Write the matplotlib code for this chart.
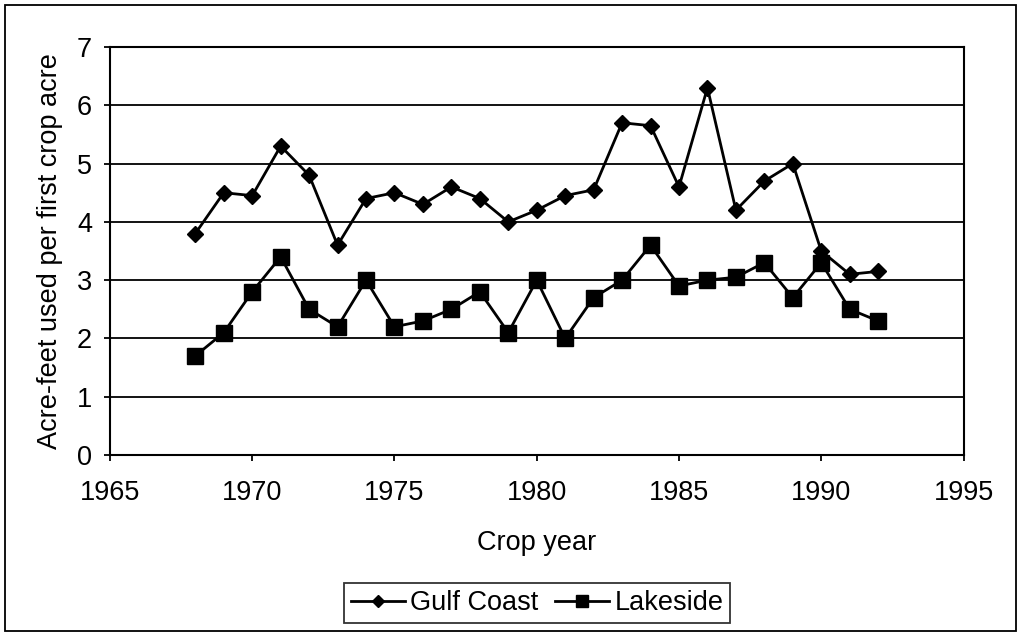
import matplotlib.pyplot as plt
from matplotlib.patches import Rectangle

plt.rcParams['font.family'] = ['Liberation Sans', 'DejaVu Sans']
plt.rcParams['font.size'] = 19.5

years = list(range(1968, 1993))
gulf_coast = [3.8, 4.5, 4.45, 5.3, 4.8, 3.6, 4.4, 4.5, 4.3, 4.6, 4.4, 4.0, 4.2,
              4.45, 4.55, 5.7, 5.65, 4.6, 6.3, 4.2, 4.7, 5.0, 3.5, 3.1, 3.15]
lakeside = [1.7, 2.1, 2.8, 3.4, 2.5, 2.2, 3.0, 2.2, 2.3, 2.5, 2.8, 2.1, 3.0,
            2.0, 2.7, 3.0, 3.6, 2.9, 3.0, 3.05, 3.3, 2.7, 3.3, 2.5, 2.3]

fig = plt.figure(figsize=(10.21, 6.36), dpi=100)
ax = fig.add_axes([0.1077, 0.2846, 0.836, 0.6415])

ax.plot(years, gulf_coast, color='black', linewidth=2, marker='D', markersize=8, label='Gulf Coast')
ax.plot(years, lakeside, color='black', linewidth=2, marker='s', markersize=11, label='Lakeside')

ax.set_xlim(1965, 1995)
ax.set_ylim(0, 7)
ax.set_xticks(range(1965, 1996, 5))
ax.set_yticks(range(0, 8))
ax.yaxis.grid(True, color='black', linewidth=1.3)
ax.set_axisbelow(True)
for s in ax.spines.values():
    s.set_linewidth(1.5)
ax.tick_params(direction='out', length=4, width=1.3)
ax.tick_params(axis='x', pad=14)
ax.tick_params(axis='y', pad=9)

ax.set_xlabel('Crop year', labelpad=17)
ax.set_ylabel('Acre-feet used per first crop acre', labelpad=10)

leg = fig.legend(loc='center', bbox_to_anchor=(537 / 1021, 1 - 603 / 636), ncol=2,
                 frameon=True, fancybox=False, edgecolor='black', handlelength=2.0,
                 columnspacing=0.6, handletextpad=0.2, borderpad=0.25, markerscale=0.75)
leg.get_frame().set_linewidth(1.3)

fig.patches.append(Rectangle((0.005, 0.008), 0.99, 0.984, transform=fig.transFigure,
                             fill=False, edgecolor='black', linewidth=1.3))

plt.savefig('out.png', dpi=100)
